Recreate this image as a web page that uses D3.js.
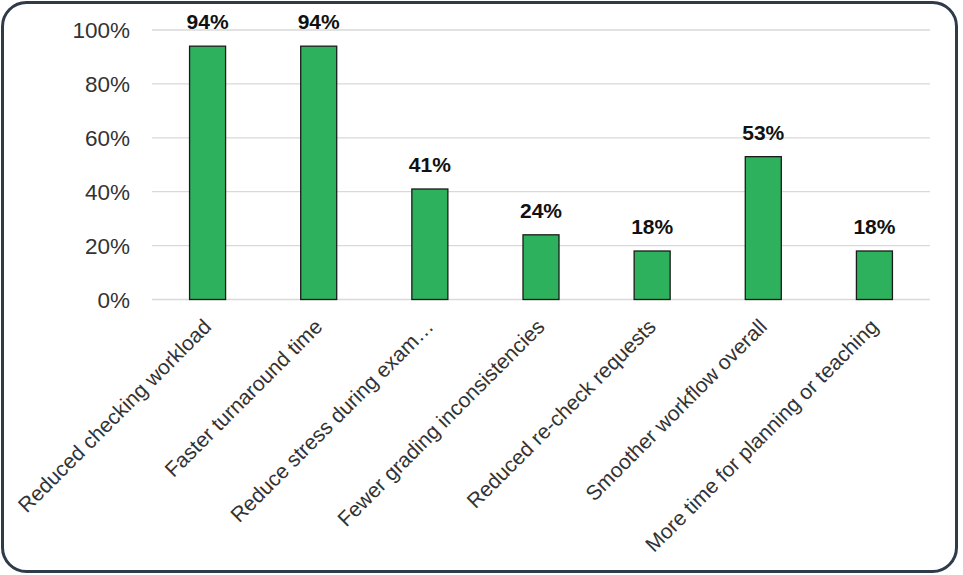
<!DOCTYPE html>
<html><head><meta charset="utf-8">
<script src="https://cdn.jsdelivr.net/npm/d3@7"></script>
<style>html,body{margin:0;padding:0;background:#fff;}svg{display:block;}</style>
</head><body>
<svg id="c" width="963" height="575"></svg>
<script>
const categories = ["Reduced checking workload","Faster turnaround time","Reduce stress during exam\u2026","Fewer grading inconsistencies","Reduced re-check requests","Smoother workflow overall","More time for planning or teaching"];
const values = [94,94,41,24,18,53,18];
const yTicks = [0,20,40,60,80,100];

const svg = d3.select("#c");
svg.append("rect").attr("x",2.5).attr("y",2.5).attr("width",954).attr("height",569)
  .attr("rx",24).attr("ry",24).attr("fill","#fff").attr("stroke","#2f3b4a").attr("stroke-width",3);

const pLeft=152, pRight=930, pTop=30, pBottom=299.5;
const x = d3.scaleBand().domain(categories).range([pLeft,pRight]).paddingInner(0.676).paddingOuter(0.338);
const y = d3.scaleLinear().domain([0,100]).range([pBottom,pTop]);

const g = svg.append("g");
g.selectAll("line.grid").data(yTicks).join("line").attr("class","grid")
  .attr("x1",pLeft).attr("x2",pRight).attr("y1",d=>y(d)).attr("y2",d=>y(d))
  .attr("stroke","#d9d9d9").attr("stroke-width",1.3);

const yAxis = g.append("g").attr("transform",`translate(${pLeft},0)`)
  .call(d3.axisLeft(y).tickValues(yTicks).tickFormat(d=>d+"%").tickSize(0).tickPadding(22));
yAxis.select(".domain").remove();
yAxis.selectAll("text").attr("font-family","Liberation Sans, Arial, sans-serif").attr("font-size",22.5).attr("fill","#333").attr("dy","0.35em");

g.selectAll("rect.bar").data(values).join("rect").attr("class","bar")
  .attr("x",(d,i)=>x(categories[i])).attr("width",x.bandwidth())
  .attr("y",d=>y(d)).attr("height",d=>pBottom-y(d))
  .attr("fill","#2eb15d").attr("stroke","#1a1a1a").attr("stroke-width",1.3);

g.selectAll("text.val").data(values).join("text").attr("class","val")
  .attr("x",(d,i)=>x(categories[i])+x.bandwidth()/2).attr("y",d=>y(d)-17)
  .attr("text-anchor","middle").attr("font-family","Liberation Sans, Arial, sans-serif")
  .attr("font-weight","bold").attr("font-size",21).attr("fill","#111").text(d=>d+"%");

g.selectAll("text.cat").data(categories).join("text").attr("class","cat")
  .attr("transform",d=>`translate(${x(d)+x.bandwidth()/2+5},328) rotate(-45)`)
  .attr("text-anchor","end").attr("font-family","Liberation Sans, Arial, sans-serif")
  .attr("font-size",21).attr("fill","#333").text(d=>d);
</script>
</body></html>
